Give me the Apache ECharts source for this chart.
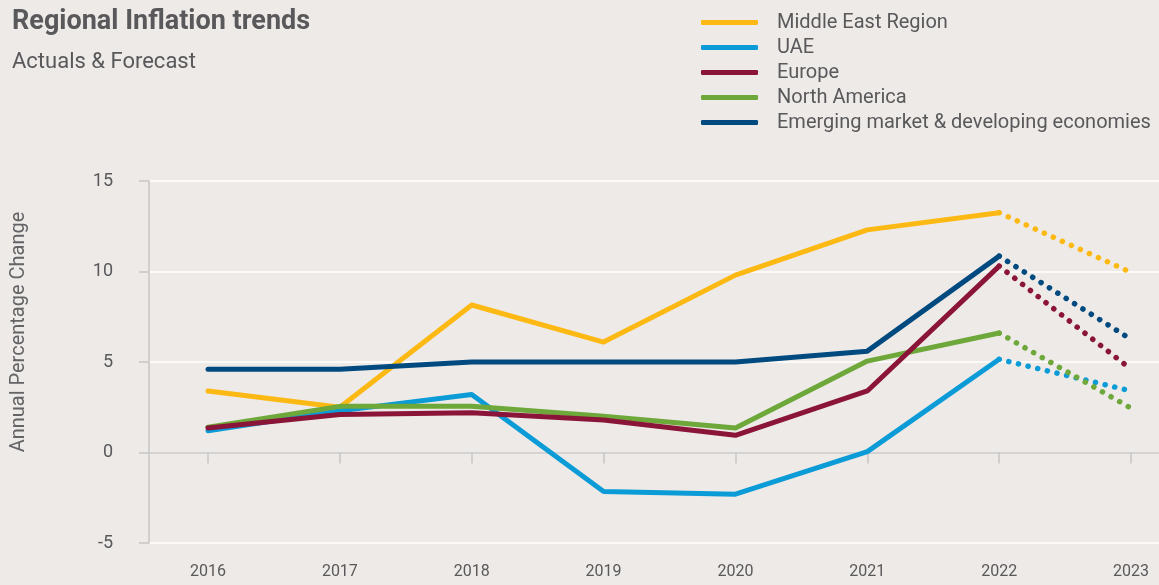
<!DOCTYPE html>
<html>
<head>
<meta charset="utf-8">
<script src="https://cdn.jsdelivr.net/npm/echarts@6/dist/echarts.min.js"></script>
<style>
  html, body { margin: 0; padding: 0; background: #edeae7; }
  #chart { width: 1159px; height: 585px; }
</style>
</head>
<body>
<div id="chart"></div>
<script>
// Data
const years = [2016, 2017, 2018, 2019, 2020, 2021, 2022];
const forecastYears = [2022, 2023];
const tickYears = [2016, 2017, 2018, 2019, 2020, 2021, 2022, 2023];

const seriesNames = ['Middle East Region', 'UAE', 'Europe', 'North America', 'Emerging market & developing economies'];
const seriesColors = ['#fdb913', '#0b9bd7', '#8a1538', '#6ea83a', '#004a80'];

const middleEast = [3.4, 2.5, 8.15, 6.1, 9.8, 12.3, 13.25];
const uae = [1.2, 2.3, 3.2, -2.15, -2.3, 0.05, 5.15];
const europe = [1.35, 2.1, 2.2, 1.8, 0.95, 3.4, 10.3];
const northAmerica = [1.4, 2.55, 2.55, 2.0, 1.35, 5.05, 6.6];
const emerging = [4.6, 4.6, 5.0, 5.0, 5.0, 5.6, 10.85];

const middleEastForecast = [13.25, 9.95];
const uaeForecast = [5.15, 3.4];
const europeForecast = [10.3, 4.6];
const northAmericaForecast = [6.6, 2.45];
const emergingForecast = [10.85, 6.25];

const actuals = [middleEast, uae, europe, northAmerica, emerging];
const forecasts = [middleEastForecast, uaeForecast, europeForecast, northAmericaForecast, emergingForecast];

const FONT = 'Roboto, "Noto Sans", sans-serif';
const TEXT_COLOR = '#59595b';
const AXIS_COLOR = '#c6c6c6';

function pairs(xs, ys) {
    return xs.map((x, i) => [x, ys[i]]);
}

// Build solid (actual) and dotted (forecast) series for every region
const series = [];
seriesNames.forEach((name, i) => {
    series.push({
        name: name,
        type: 'line',
        data: pairs(years, actuals[i]),
        showSymbol: false,
        symbol: 'none',
        color: seriesColors[i],
        lineStyle: { width: 5, cap: 'round', join: 'round', color: seriesColors[i] },
        z: 3 + (i === 2 ? 1 : 0)
    });
});
seriesNames.forEach((name, i) => {
    series.push({
        name: name,
        type: 'line',
        data: pairs(forecastYears, forecasts[i]),
        showSymbol: false,
        symbol: 'none',
        color: seriesColors[i],
        lineStyle: { width: 5.5, type: [0.1, 9.8], cap: 'round', color: seriesColors[i] },
        z: 2
    });
});

const chart = echarts.init(document.getElementById('chart'), null, { renderer: 'canvas' });

chart.setOption({
    backgroundColor: '#edeae7',
    animation: false,
    textStyle: { fontFamily: FONT },
    title: [
        {
            text: 'Regional Inflation trends',
            left: 7, top: 4,
            textStyle: { fontFamily: FONT, fontSize: 27, fontWeight: 'bold', color: TEXT_COLOR }
        },
        {
            text: 'Actuals & Forecast',
            left: 7, top: 46,
            textStyle: { fontFamily: FONT, fontSize: 22, fontWeight: 'normal', color: TEXT_COLOR }
        }
    ],
    legend: {
        data: seriesNames,
        orient: 'vertical',
        left: 696, top: 5,
        itemWidth: 57, itemHeight: 5,
        itemGap: 0,
        icon: 'roundRect',
        textStyle: {
            fontFamily: FONT, fontSize: 20, color: TEXT_COLOR,
            lineHeight: 25, padding: [0, 0, 0, 14]
        }
    },
    graphic: [
        {
            type: 'text',
            x: 19, y: 332,
            rotation: Math.PI / 2,
            style: {
                text: 'Annual Percentage Change',
                fontFamily: FONT, fontSize: 20, fontWeight: 'normal',
                fill: '#646466',
                align: 'center', verticalAlign: 'middle'
            }
        }
    ],
    grid: { left: 149, right: 0, top: 181, bottom: 42, containLabel: false },
    xAxis: {
        type: 'value',
        min: 2015.5525,
        max: 2023.212,
        splitLine: { show: false },
        axisLine: { show: true, lineStyle: { color: AXIS_COLOR, width: 1.5 } },
        axisTick: {
            show: true, customValues: tickYears, length: 11,
            lineStyle: { color: AXIS_COLOR, width: 1.5 }
        },
        axisLabel: {
            customValues: tickYears, margin: 21,
            fontFamily: FONT, fontSize: 16, color: TEXT_COLOR,
            formatter: v => String(v)
        }
    },
    yAxis: {
        type: 'value',
        min: -5, max: 15, interval: 5,
        axisLine: { show: true, lineStyle: { color: AXIS_COLOR, width: 1.5 } },
        axisTick: { show: true, length: 10, lineStyle: { color: AXIS_COLOR, width: 1.5 } },
        splitLine: { show: true, lineStyle: { color: '#ffffff', width: 1.5 } },
        axisLabel: { margin: 36, fontFamily: FONT, fontSize: 18, color: TEXT_COLOR }
    },
    series: series
});
</script>
</body>
</html>
